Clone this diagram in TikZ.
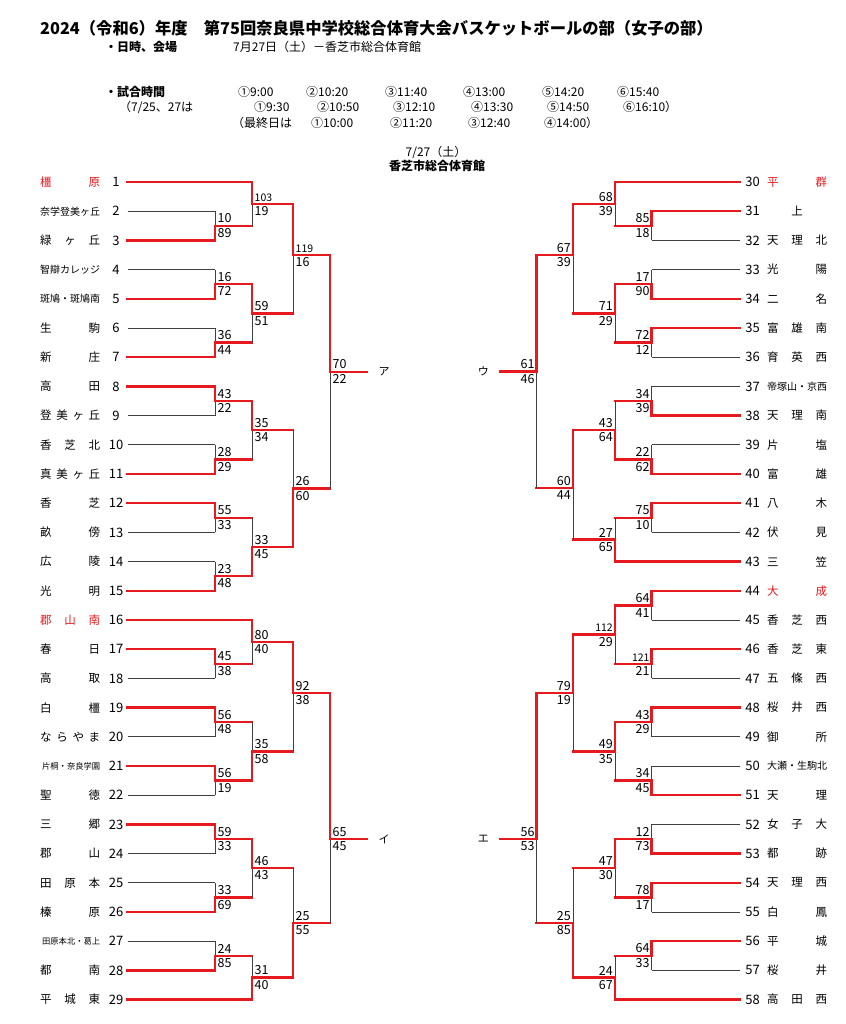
\documentclass[tikz,border=0pt]{standalone}
\usepackage{fontspec}
\setmainfont{Noto Sans CJK JP}
\usetikzlibrary{positioning,calc}
\definecolor{winred}{RGB}{230,25,30}

\tikzset{
  wline/.style={draw=winred, line width=2.5pt, line cap=rect},
  lline/.style={draw=black!75, line width=0.9pt},
  hwin/.style={wline}, vwin/.style={wline},
  hlose/.style={lline}, vlose/.style={lline},
  hdrop/.style={wline}, vdrop/.style={lline},
  num/.style={inner sep=0pt, minimum width=23pt, font=\fontsize{13}{13}\selectfont},
  rnum/.style={num, minimum width=25pt},
  tname/.style={anchor=west, inner sep=0pt, font=\fontsize{11.5}{11.5}\selectfont},
  sname/.style={tname, font=\fontsize{10}{10}\selectfont},
  xname/.style={tname, font=\fontsize{8.3}{8.3}\selectfont},
  seed/.style={text=winred},
  score/.style={inner sep=0pt, font=\fontsize{12.5}{12.5}\selectfont},
  ltop/.style={score, anchor=south west, xshift=2.5pt, yshift=2.5pt},
  lbot/.style={score, anchor=north west, xshift=2.5pt, yshift=-2.5pt},
  rtop/.style={score, anchor=south east, xshift=-2pt, yshift=2.5pt},
  rbot/.style={score, anchor=north east, xshift=-2pt, yshift=-2.5pt},
  kana/.style={inner sep=0pt, font=\fontsize{11}{11}\selectfont},
  head/.style={anchor=base west, inner sep=0pt, font=\fontsize{12}{12}\selectfont},
  bhead/.style={head, font=\fontsize{12}{12}\selectfont\bfseries},
  title/.style={anchor=base west, inner sep=0pt, font=\fontsize{16.3}{16.3}\selectfont\bfseries},
}

\newcommand{\nm}[1]{\makebox[60pt]{#1}}
\newcommand{\narrow}{\fontsize{10.5}{10.5}\selectfont}

% game: [ratio] junction, top, bottom, level, top score, bottom score, top kind, bottom kind
\newcommand{\lgame}[9][.5]{%
  \coordinate (tmp) at ($(#3)!#1!(#4)$);
  \coordinate (#2) at (tmp -| #5);
  \draw[h#8] (#3) -- (#3 -| #2);
  \draw[v#8] (#3 -| #2) -- (#2);
  \draw[h#9] (#4) -- (#4 -| #2);
  \draw[v#9] (#4 -| #2) -- (#2);
  \node[ltop] (#2a) at (#2) {#6};
  \node[lbot] (#2b) at (#2) {#7};
}
\newcommand{\rgame}[9][.5]{%
  \coordinate (tmp) at ($(#3)!#1!(#4)$);
  \coordinate (#2) at (tmp -| #5);
  \draw[h#8] (#3) -- (#3 -| #2);
  \draw[v#8] (#3 -| #2) -- (#2);
  \draw[h#9] (#4) -- (#4 -| #2);
  \draw[v#9] (#4 -| #2) -- (#2);
  \node[rtop] (#2a) at (#2) {#6};
  \node[rbot] (#2b) at (#2) {#7};
}

\begin{document}
\begin{tikzpicture}[x=1pt,y=-1pt]
    \fill[white] (0,0) rectangle (845,1024);
    \useasboundingbox (0,0) rectangle (845,1024);

    % Header
    \node[title] (title) at (40,35) {2024（令和6）年度　第75回奈良県中学校総合体育大会バスケットボールの部（女子の部）};
    \node[bhead] (when) at (105,52) {・日時、会場};
    \node[head] (whenv) at (233,52) {7月27日（土）－香芝市総合体育館};
    \node[bhead] (times) at (105,97) {・試合時間};
    \node[head] (ta1) at (238,97) {①9:00};
    \node[head] (ta2) at (306,97) {②10:20};
    \node[head] (ta3) at (385,97) {③11:40};
    \node[head] (ta4) at (463,97) {④13:00};
    \node[head] (ta5) at (542,97) {⑤14:20};
    \node[head] (ta6) at (617,97) {⑥15:40};
    \node[head] (tb0) at (119,112) {（7/25、27は};
    \node[head] (tb1) at (254,112) {①9:30};
    \node[head] (tb2) at (317,112) {②10:50};
    \node[head] (tb3) at (393,112) {③12:10};
    \node[head] (tb4) at (471,112) {④13:30};
    \node[head] (tb5) at (547,112) {⑤14:50};
    \node[head] (tb6) at (623,112) {⑥16:10）};
    \node[head] (tc0) at (232,128) {（最終日は};
    \node[head] (tc1) at (311,128) {①10:00};
    \node[head] (tc2) at (390,128) {②11:20};
    \node[head] (tc3) at (468,128) {③12:40};
    \node[head] (tc4) at (544,128) {④14:00）};
    \node[head, anchor=base] (day) at (436,157) {7/27（土）};
    \node[bhead, anchor=base] (hall) at (437,171) {香芝市総合体育館};

    % Levels
    \coordinate (L1) at (215,0);
    \coordinate (L2) at (252,0);
    \coordinate (L3) at (293,0);
    \coordinate (L4) at (330,0);
    \coordinate (R1) at (651.7,0);
    \coordinate (R2) at (615,0);
    \coordinate (R3) at (573,0);
    \coordinate (R4) at (536.7,0);

    % Left teams
    \node[num] (n1) at (116,182) {1};      \node[tname,seed] (t1) at (40,182) {\nm{橿\hfill 原}};
    \node[num] (n2) at (116,211.2) {2};    \node[sname] (t2) at (40,211.2) {\nm{奈学登美ヶ丘}};
    \node[num] (n3) at (116,240.4) {3};    \node[tname] (t3) at (40,240.4) {\nm{緑\hfill ヶ\hfill 丘}};
    \node[num] (n4) at (116,269.6) {4};    \node[sname] (t4) at (40,269.6) {\nm{智辯カレッジ}};
    \node[num] (n5) at (116,298.8) {5};    \node[sname] (t5) at (40,298.8) {\nm{斑鳩・斑鳩南}};
    \node[num] (n6) at (116,328) {6};      \node[tname] (t6) at (40,328) {\nm{生\hfill 駒}};
    \node[num] (n7) at (116,357.2) {7};    \node[tname] (t7) at (40,357.2) {\nm{新\hfill 庄}};
    \node[num] (n8) at (116,386.4) {8};    \node[tname] (t8) at (40,386.4) {\nm{高\hfill 田}};
    \node[num] (n9) at (116,415.6) {9};    \node[tname] (t9) at (40,415.6) {\nm{登\hfill 美\hfill ヶ\hfill 丘}};
    \node[num] (n10) at (116,444.8) {10};  \node[tname] (t10) at (40,444.8) {\nm{香\hfill 芝\hfill 北}};
    \node[num] (n11) at (116,474) {11};    \node[tname] (t11) at (40,474) {\nm{真\hfill 美\hfill ヶ\hfill 丘}};
    \node[num] (n12) at (116,503.2) {12};  \node[tname] (t12) at (40,503.2) {\nm{香\hfill 芝}};
    \node[num] (n13) at (116,532.4) {13};  \node[tname] (t13) at (40,532.4) {\nm{畝\hfill 傍}};
    \node[num] (n14) at (116,561.6) {14};  \node[tname] (t14) at (40,561.6) {\nm{広\hfill 陵}};
    \node[num] (n15) at (116,590.8) {15};  \node[tname] (t15) at (40,590.8) {\nm{光\hfill 明}};
    \node[num] (n16) at (116,620) {16};    \node[tname,seed] (t16) at (40,620) {\nm{郡\hfill 山\hfill 南}};
    \node[num] (n17) at (116,649.2) {17};  \node[tname] (t17) at (40,649.2) {\nm{春\hfill 日}};
    \node[num] (n18) at (116,678.4) {18};  \node[tname] (t18) at (40,678.4) {\nm{高\hfill 取}};
    \node[num] (n19) at (116,707.6) {19};  \node[tname] (t19) at (40,707.6) {\nm{白\hfill 橿}};
    \node[num] (n20) at (116,736.8) {20};  \node[tname] (t20) at (40,736.8) {\nm{な\hfill ら\hfill や\hfill ま}};
    \node[num] (n21) at (116,766) {21};    \node[xname] (t21) at (40,766) {\nm{\hfill 片桐・奈良学園}};
    \node[num] (n22) at (116,795.2) {22};  \node[tname] (t22) at (40,795.2) {\nm{聖\hfill 徳}};
    \node[num] (n23) at (116,824.4) {23};  \node[tname] (t23) at (40,824.4) {\nm{三\hfill 郷}};
    \node[num] (n24) at (116,853.6) {24};  \node[tname] (t24) at (40,853.6) {\nm{郡\hfill 山}};
    \node[num] (n25) at (116,882.8) {25};  \node[tname] (t25) at (40,882.8) {\nm{田\hfill 原\hfill 本}};
    \node[num] (n26) at (116,912) {26};    \node[tname] (t26) at (40,912) {\nm{榛\hfill 原}};
    \node[num] (n27) at (116,941.2) {27};  \node[xname] (t27) at (40,941.2) {\nm{\hfill 田原本北・葛上}};
    \node[num] (n28) at (116,970.4) {28};  \node[tname] (t28) at (40,970.4) {\nm{都\hfill 南}};
    \node[num] (n29) at (116,999.6) {29};  \node[tname] (t29) at (40,999.6) {\nm{平\hfill 城\hfill 東}};

    % Right teams
    \node[rnum] (n30) at (752.5,182) {30};    \node[tname,seed] (t30) at (767,182) {\nm{平\hfill 群}};
    \node[rnum] (n31) at (752.5,211.2) {31};  \node[tname] (t31) at (767,211.2) {\nm{\hfill 上\hfill}};
    \node[rnum] (n32) at (752.5,240.4) {32};  \node[tname] (t32) at (767,240.4) {\nm{天\hfill 理\hfill 北}};
    \node[rnum] (n33) at (752.5,269.6) {33};  \node[tname] (t33) at (767,269.6) {\nm{光\hfill 陽}};
    \node[rnum] (n34) at (752.5,298.8) {34};  \node[tname] (t34) at (767,298.8) {\nm{二\hfill 名}};
    \node[rnum] (n35) at (752.5,328) {35};    \node[tname] (t35) at (767,328) {\nm{富\hfill 雄\hfill 南}};
    \node[rnum] (n36) at (752.5,357.2) {36};  \node[tname] (t36) at (767,357.2) {\nm{育\hfill 英\hfill 西}};
    \node[rnum] (n37) at (752.5,386.4) {37};  \node[sname] (t37) at (767,386.4) {\nm{帝塚山・京西}};
    \node[rnum] (n38) at (752.5,415.6) {38};  \node[tname] (t38) at (767,415.6) {\nm{天\hfill 理\hfill 南}};
    \node[rnum] (n39) at (752.5,444.8) {39};  \node[tname] (t39) at (767,444.8) {\nm{片\hfill 塩}};
    \node[rnum] (n40) at (752.5,474) {40};    \node[tname] (t40) at (767,474) {\nm{富\hfill 雄}};
    \node[rnum] (n41) at (752.5,503.2) {41};  \node[tname] (t41) at (767,503.2) {\nm{八\hfill 木}};
    \node[rnum] (n42) at (752.5,532.4) {42};  \node[tname] (t42) at (767,532.4) {\nm{伏\hfill 見}};
    \node[rnum] (n43) at (752.5,561.6) {43};  \node[tname] (t43) at (767,561.6) {\nm{三\hfill 笠}};
    \node[rnum] (n44) at (752.5,590.8) {44};  \node[tname,seed] (t44) at (767,590.8) {\nm{大\hfill 成}};
    \node[rnum] (n45) at (752.5,620) {45};    \node[tname] (t45) at (767,620) {\nm{香\hfill 芝\hfill 西}};
    \node[rnum] (n46) at (752.5,649.2) {46};  \node[tname] (t46) at (767,649.2) {\nm{香\hfill 芝\hfill 東}};
    \node[rnum] (n47) at (752.5,678.4) {47};  \node[tname] (t47) at (767,678.4) {\nm{五\hfill 條\hfill 西}};
    \node[rnum] (n48) at (752.5,707.6) {48};  \node[tname] (t48) at (767,707.6) {\nm{桜\hfill 井\hfill 西}};
    \node[rnum] (n49) at (752.5,736.8) {49};  \node[tname] (t49) at (767,736.8) {\nm{御\hfill 所}};
    \node[rnum] (n50) at (752.5,766) {50};    \node[sname] (t50) at (767,766) {\nm{大瀬・生駒北}};
    \node[rnum] (n51) at (752.5,795.2) {51};  \node[tname] (t51) at (767,795.2) {\nm{天\hfill 理}};
    \node[rnum] (n52) at (752.5,824.4) {52};  \node[tname] (t52) at (767,824.4) {\nm{女\hfill 子\hfill 大}};
    \node[rnum] (n53) at (752.5,853.6) {53};  \node[tname] (t53) at (767,853.6) {\nm{都\hfill 跡}};
    \node[rnum] (n54) at (752.5,882.8) {54};  \node[tname] (t54) at (767,882.8) {\nm{天\hfill 理\hfill 西}};
    \node[rnum] (n55) at (752.5,912) {55};    \node[tname] (t55) at (767,912) {\nm{白\hfill 鳳}};
    \node[rnum] (n56) at (752.5,941.2) {56};  \node[tname] (t56) at (767,941.2) {\nm{平\hfill 城}};
    \node[rnum] (n57) at (752.5,970.4) {57};  \node[tname] (t57) at (767,970.4) {\nm{桜\hfill 井}};
    \node[rnum] (n58) at (752.5,999.6) {58};  \node[tname] (t58) at (767,999.6) {\nm{高\hfill 田\hfill 西}};

    % Left top -> ア
    \lgame{m23}{n2}{n3}{L1}{10}{89}{lose}{win}
    \lgame{m13}{n1}{m23}{L2}{\narrow 103}{19}{win}{drop}
    \lgame{m45}{n4}{n5}{L1}{16}{72}{lose}{win}
    \lgame{m67}{n6}{n7}{L1}{36}{44}{lose}{win}
    \lgame{m47}{m45}{m67}{L2}{59}{51}{win}{drop}
    \lgame[.467]{m17}{m13}{m47}{L3}{\narrow 119}{16}{win}{drop}
    \lgame{m89}{n8}{n9}{L1}{43}{22}{win}{lose}
    \lgame{m1011}{n10}{n11}{L1}{28}{29}{lose}{win}
    \lgame{m811}{m89}{m1011}{L2}{35}{34}{win}{drop}
    \lgame{m1213}{n12}{n13}{L1}{55}{33}{win}{lose}
    \lgame{m1415}{n14}{n15}{L1}{23}{48}{lose}{win}
    \lgame{m1215}{m1213}{m1415}{L2}{33}{45}{drop}{win}
    \lgame{m815}{m811}{m1215}{L3}{26}{60}{drop}{win}
    \lgame{m115}{m17}{m815}{L4}{70}{22}{win}{drop}
    \coordinate (oA) at ($(m115)+(37,0)$);
    \draw[wline] (m115) -- (oA);
    \node[kana, right=11.5pt of oA] (kA) {ア};

    % Left bottom -> イ
    \lgame{m1718}{n17}{n18}{L1}{45}{38}{win}{lose}
    \lgame{m1618}{n16}{m1718}{L2}{80}{40}{win}{drop}
    \lgame{m1920}{n19}{n20}{L1}{56}{48}{win}{lose}
    \lgame{m2122}{n21}{n22}{L1}{56}{19}{win}{lose}
    \lgame{m1922}{m1920}{m2122}{L2}{35}{58}{drop}{win}
    \lgame[.467]{m1622}{m1618}{m1922}{L3}{92}{38}{win}{drop}
    \lgame{m2324}{n23}{n24}{L1}{59}{33}{win}{lose}
    \lgame{m2526}{n25}{n26}{L1}{33}{69}{lose}{win}
    \lgame{m2326}{m2324}{m2526}{L2}{46}{43}{win}{drop}
    \lgame{m2728}{n27}{n28}{L1}{24}{85}{lose}{win}
    \lgame{m2729}{m2728}{n29}{L2}{31}{40}{drop}{win}
    \lgame{m2329}{m2326}{m2729}{L3}{25}{55}{drop}{win}
    \lgame[.635]{m1629}{m1622}{m2329}{L4}{65}{45}{win}{drop}
    \coordinate (oI) at ($(m1629)+(37,0)$);
    \draw[wline] (m1629) -- (oI);
    \node[kana, right=11.5pt of oI] (kI) {イ};

    % Right top -> ウ
    \rgame{m3132}{n31}{n32}{R1}{85}{18}{win}{lose}
    \rgame{m3032}{n30}{m3132}{R2}{68}{39}{win}{drop}
    \rgame{m3334}{n33}{n34}{R1}{17}{90}{lose}{win}
    \rgame{m3536}{n35}{n36}{R1}{72}{12}{win}{lose}
    \rgame{m3336}{m3334}{m3536}{R2}{71}{29}{win}{drop}
    \rgame[.467]{m3036}{m3032}{m3336}{R3}{67}{39}{win}{drop}
    \rgame{m3738}{n37}{n38}{R1}{34}{39}{lose}{win}
    \rgame{m3940}{n39}{n40}{R1}{22}{62}{lose}{win}
    \rgame{m3740}{m3738}{m3940}{R2}{43}{64}{drop}{win}
    \rgame{m4142}{n41}{n42}{R1}{75}{10}{win}{lose}
    \rgame{m4143}{m4142}{n43}{R2}{27}{65}{drop}{win}
    \rgame[.53]{m3743}{m3740}{m4143}{R3}{60}{44}{win}{drop}
    \rgame{m3043}{m3036}{m3743}{R4}{61}{46}{win}{drop}
    \coordinate (oU) at ($(m3043)+(-36.7,0)$);
    \draw[wline] (m3043) -- (oU);
    \node[kana, left=11pt of oU] (kU) {ウ};

    % Right bottom -> エ
    \rgame{m4445}{n44}{n45}{R1}{64}{41}{win}{lose}
    \rgame{m4647}{n46}{n47}{R1}{\narrow 121}{21}{win}{lose}
    \rgame{m4447}{m4445}{m4647}{R2}{\narrow 112}{29}{win}{drop}
    \rgame{m4849}{n48}{n49}{R1}{43}{29}{win}{lose}
    \rgame{m5051}{n50}{n51}{R1}{34}{45}{lose}{win}
    \rgame{m4851}{m4849}{m5051}{R2}{49}{35}{win}{drop}
    \rgame{m4451}{m4447}{m4851}{R3}{79}{19}{win}{drop}
    \rgame{m5253}{n52}{n53}{R1}{12}{73}{lose}{win}
    \rgame{m5455}{n54}{n55}{R1}{78}{17}{win}{lose}
    \rgame{m5255}{m5253}{m5455}{R2}{47}{30}{win}{drop}
    \rgame{m5657}{n56}{n57}{R1}{64}{33}{win}{lose}
    \rgame{m5658}{m5657}{n58}{R2}{24}{67}{drop}{win}
    \rgame{m5258}{m5255}{m5658}{R3}{25}{85}{drop}{win}
    \rgame[.635]{m4458}{m4451}{m5258}{R4}{56}{53}{win}{drop}
    \coordinate (oE) at ($(m4458)+(-36.7,0)$);
    \draw[wline] (m4458) -- (oE);
    \node[kana, left=11pt of oE] (kE) {エ};
\end{tikzpicture}
\end{document}
